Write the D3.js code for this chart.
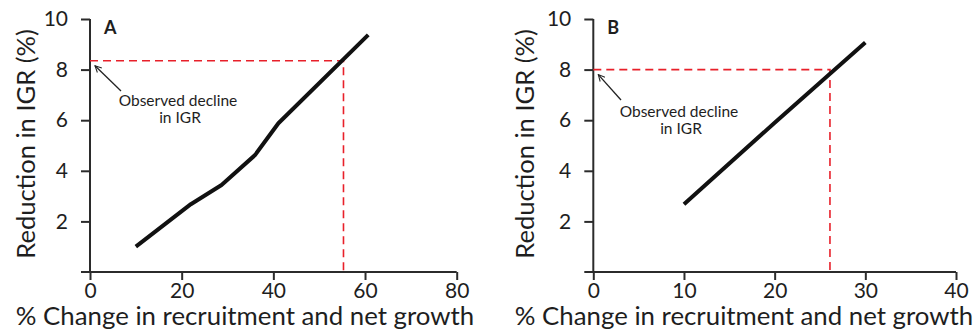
<!DOCTYPE html>
<html>
<head>
<meta charset="utf-8">
<script src="https://cdn.jsdelivr.net/npm/d3@7"></script>
<style>
  body { margin: 0; background: #fff; }
  svg text { font-family: Lato, "Open Sans", sans-serif; fill: #1e1e1e; }
</style>
</head>
<body>
<div id="chart"></div>
<script>
// values
var xA = [10, 22, 28.7, 36, 41.1, 60.7]
var yA = [1.0, 2.68, 3.44, 4.62, 5.88, 9.37]
var xB = [10, 20, 30]
var yB = [2.68, 5.9, 9.07]

var xTicksA = [0, 20, 40, 60, 80]
var xTicksB = [0, 10, 20, 30, 40]
var yTicks = [2, 4, 6, 8, 10]

// observed decline and where it meets the curve
var obsA = { x: 55.3, y: 8.35 }
var obsB = { x: 26.1, y: 8.0 }

var width = 976, height = 332

var svg = d3.select('#chart')
    .append('svg')
    .attr('width', width)
    .attr('height', height)

// open arrow head for the annotation
svg.append('defs').append('marker')
    .attr('id', 'arrow')
    .attr('viewBox', '0 0 10 10')
    .attr('refX', 9)
    .attr('refY', 5)
    .attr('markerWidth', 8)
    .attr('markerHeight', 8)
    .attr('markerUnits', 'userSpaceOnUse')
    .attr('orient', 'auto')
    .append('path')
    .attr('d', 'M1,1 L9,5 L1,9')
    .attr('fill', 'none')
    .attr('stroke', '#222')
    .attr('stroke-width', 1.3)

function drawPanel(p) {
    var x = d3.scaleLinear().domain(p.xDomain).range([p.left, p.right])
    var y = d3.scaleLinear().domain([0, 10]).range([272, 19])

    var g = svg.append('g')

    // axes
    var xAxis = g.append('g')
        .attr('transform', `translate(0,${y(0)})`)
        .call(d3.axisBottom(x).tickValues(p.xTicks).tickSize(8).tickPadding(3).tickSizeOuter(0))
    var yAxis = g.append('g')
        .attr('transform', `translate(${x(0)},0)`)
        .call(d3.axisLeft(y).tickValues(yTicks).tickSize(9).tickPadding(13).tickSizeOuter(0))

    ;[xAxis, yAxis].forEach(function (a) {
        a.select('.domain').attr('stroke', '#2b2b2b').attr('stroke-width', 2)
        a.selectAll('.tick line').attr('stroke', '#2b2b2b').attr('stroke-width', 2)
        a.selectAll('.tick text').attr('font-family', 'Lato, sans-serif')
            .attr('font-size', 21).attr('fill', '#1e1e1e')
    })
    // x axis line reaches left to the y tick ends
    xAxis.select('.domain').attr('d', `M${x(0) - 9},0H${x(p.xDomain[1])}`)
    yAxis.select('.domain').attr('d', `M0,${y(10)}V${y(0)}`)

    // red dashed guide
    g.append('path')
        .attr('d', `M${x(0)},${y(p.obs.y)}H${x(p.obs.x)}V${y(0)}`)
        .attr('fill', 'none')
        .attr('stroke', '#e8202a')
        .attr('stroke-width', 1.6)
        .attr('stroke-dasharray', '8,5')

    // curve
    var line = d3.line()
        .x(function (d) { return x(d[0]) })
        .y(function (d) { return y(d[1]) })
    g.append('path')
        .datum(d3.zip(p.xs, p.ys))
        .attr('d', line)
        .attr('fill', 'none')
        .attr('stroke', '#111')
        .attr('stroke-width', 4)
        .attr('stroke-linejoin', 'round')

    // annotation arrow + text
    g.append('line')
        .attr('x1', p.arrowFrom[0]).attr('y1', p.arrowFrom[1])
        .attr('x2', x(0) + 5).attr('y2', y(p.obs.y) + 5)
        .attr('stroke', '#222')
        .attr('stroke-width', 1.3)
        .attr('marker-end', 'url(#arrow)')
    var note = g.append('text')
        .attr('text-anchor', 'middle')
        .attr('font-size', 15.5)
    note.append('tspan').attr('x', p.noteX).attr('y', p.noteY).text('Observed decline')
    note.append('tspan').attr('x', p.noteX + 2).attr('y', p.noteY + 16.5).text('in IGR')

    // panel letter
    g.append('text')
        .attr('x', p.left + 14)
        .attr('y', 34)
        .attr('font-size', 18)
        .attr('font-weight', 'bold')
        .text(p.letter)

    // axis titles
    g.append('text')
        .attr('x', p.xTitleX)
        .attr('y', 325)
        .attr('text-anchor', 'middle')
        .attr('font-size', 25.8)
        .text('% Change in recruitment and net growth')
    g.append('text')
        .attr('transform', `translate(${p.yTitleX},144) rotate(-90)`)
        .attr('text-anchor', 'middle')
        .attr('font-size', 25.5)
        .text('Reduction in IGR (%)')
}

drawPanel({
    letter: 'A', xDomain: [0, 80], xTicks: xTicksA, left: 90, right: 456.7,
    xs: xA, ys: yA, obs: obsA,
    arrowFrom: [121, 91], noteX: 178, noteY: 106,
    xTitleX: 245, yTitleX: 35
})
drawPanel({
    letter: 'B', xDomain: [0, 40], xTicks: xTicksB, left: 593.3, right: 956,
    xs: xB, ys: yB, obs: obsB,
    arrowFrom: [621, 100], noteX: 679, noteY: 117,
    xTitleX: 744, yTitleX: 534
})
</script>
</body>
</html>
